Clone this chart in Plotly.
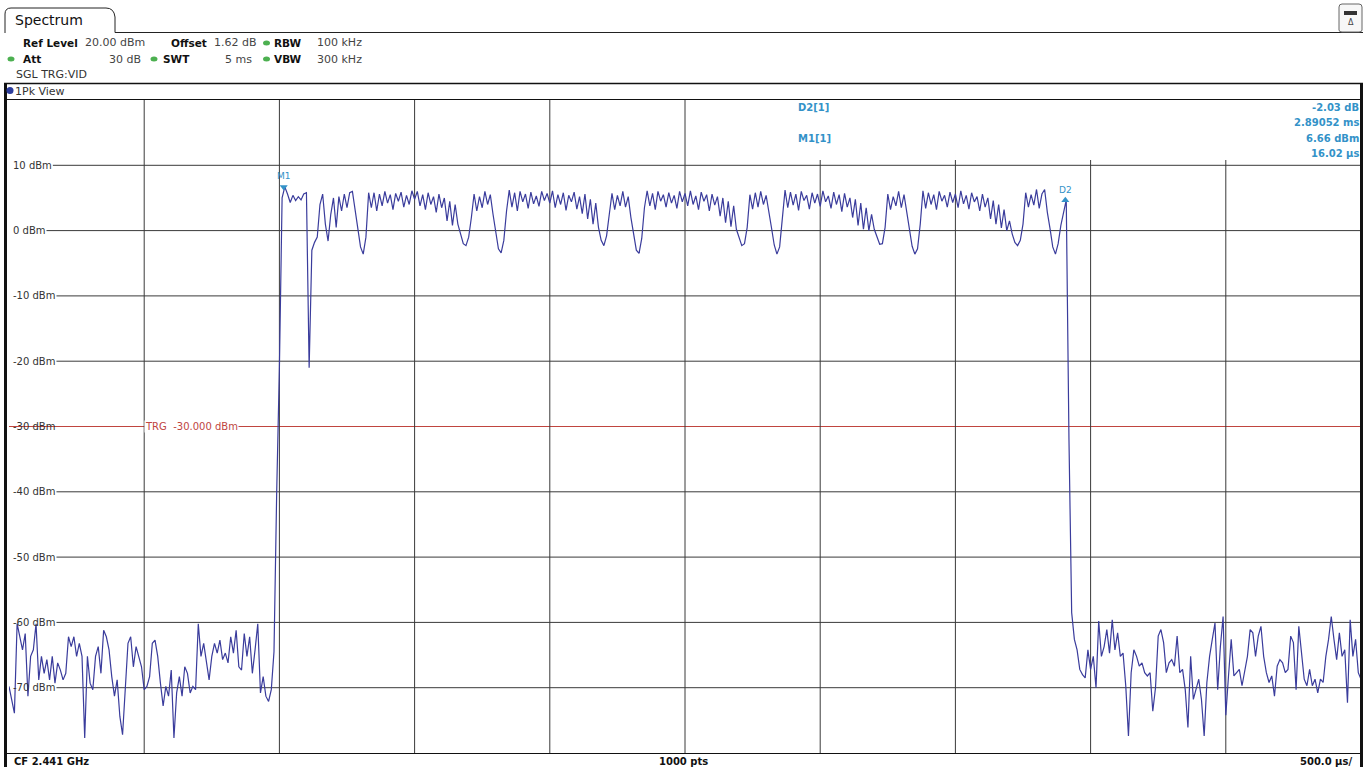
import plotly.graph_objects as go

# ---- sweep settings (zero span, 1000 pts / 5 ms, plotted every 10 us) ----
SAMPLE_US = 10.0
START_US = -1000.0
X_RANGE_US = [-1000.0, 4000.0]
Y_RANGE_DBM = [-80.0, 20.0]

# level before the trigger point (noise floor)
pre_trigger_dbm = [
    -69.8, -71.8, -73.9, -60.2, -62.2, -64.2, -61.7, -71.3, -65.2, -64.2,
    -60.2, -68.8, -65.2, -67.8, -65.7, -68.8, -65.2, -69.3, -66.2, -67.3,
    -68.8, -67.8, -62.2, -63.7, -62.2, -65.2, -63.2, -65.2, -77.7, -65.2,
    -69.3, -70.3, -65.2, -63.7, -67.8, -61.2, -62.2, -64.2, -68.3, -71.3,
    -68.8, -74.4, -77.2, -70.3, -63.2, -62.2, -66.8, -63.7, -65.2, -66.8,
    -70.3, -69.8, -68.3, -63.2, -62.7, -65.2, -69.3, -72.8, -69.8, -71.3,
    -67.3, -77.7, -70.8, -68.3, -71.3, -66.8, -67.8, -70.8, -69.8, -70.3,
    -60.2, -65.2, -63.2, -65.7, -68.8, -65.2, -63.2, -64.7, -62.7, -65.7,
    -64.7, -66.2, -62.2, -64.7, -61.2, -66.8, -67.3, -61.7, -65.2, -62.2,
    -67.8, -64.2, -60.2, -70.8, -68.3, -71.3, -72.1, -70.3, -64.5, -40.0,
]

# burst from the trigger point up to the D2 marker
burst_dbm = [
    -21.0, 5.0, 6.7, 5.6, 4.3, 5.4, 4.6, 5.2, 4.7, 5.6,
    5.8, -21.0, -3.0, -1.8, -1.0, 4.0, 5.6, 1.0, -1.6, 2.5,
    5.0, 0.5, 5.2, 3.0, 5.6, 3.5, 5.8, 6.0, 3.0, 0.5,
    -2.5, -3.6, -1.0, 5.8, 3.5, 5.8, 3.0, 5.6, 3.8, 6.0,
    4.2, 5.5, 3.2, 5.7, 4.5, 5.9, 3.6, 5.4, 4.0, 6.1,
    4.8, 6.0, 3.8, 5.5, 3.2, 5.8, 4.0, 5.2, 2.8, 5.6,
    3.5, 5.0, 1.5, 4.5, 0.8, 4.0, 1.0, -0.5, -2.0, -2.3,
    -1.0, 2.0, 5.6, 3.0, 5.2, 3.5, 6.0, 4.0, 5.5, 2.5,
    0.0, -2.8, -3.4, -1.5, 3.0, 6.2, 3.6, 5.8, 3.0, 6.0,
    4.4, 5.6, 3.4, 5.9, 4.1, 5.3, 3.7, 6.0, 4.6, 5.7,
    4.2, 6.1, 3.5, 5.5, 4.0, 5.8, 3.1, 5.4, 4.4, 5.9,
    3.3, 5.2, 2.6, 5.6, 1.8, 4.8, 1.0, 4.2, 0.5, -1.5,
    -2.3, -0.8, 2.5, 5.7, 3.2, 5.4, 3.8, 6.0, 3.6, 5.2,
    2.0, -0.5, -3.0, -3.5, -1.2, 3.5, 6.1, 3.8, 5.7, 3.2,
    6.0, 4.5, 5.5, 3.6, 5.8, 4.2, 5.4, 3.4, 6.0, 4.4,
    5.7, 3.8, 6.1, 4.0, 5.3, 3.2, 5.9, 4.5, 5.5, 3.0,
    5.6, 3.9, 5.2, 2.2, 5.0, 1.2, 4.5, 0.6, 3.8, 0.2,
    -1.2, -2.3, -2.0, 0.5, 5.5, 3.3, 5.8, 3.6, 6.0, 4.0,
    5.4, 2.6, 0.4, -2.2, -3.6, -2.5, 1.5, 6.2, 3.5, 5.9,
    3.9, 5.6, 3.1, 6.0, 4.6, 5.4, 3.3, 5.8, 4.2, 5.6,
    3.7, 6.1, 4.4, 5.3, 3.4, 5.9, 4.0, 5.5, 2.9, 5.7,
    3.6, 5.0, 2.0, 4.8, 0.8, 4.2, 0.2, 3.5, 0.0, 2.5,
    0.2, -1.0, -2.1, -2.0, 0.5, 5.6, 3.2, 5.2, 3.8, 6.0,
    3.5, 5.5, 2.8, 0.0, -2.4, -3.6, -2.8, 1.0, 6.1, 3.4,
    5.8, 4.0, 5.5, 3.2, 6.0, 4.5, 5.4, 3.6, 5.9, 4.3,
    5.6, 3.5, 6.1, 4.1, 5.4, 3.3, 5.8, 4.4, 5.2, 3.0,
    5.6, 3.6, 5.0, 1.8, 4.6, 1.0, 4.0, 0.4, 3.2, 0.0,
    1.5, -0.5, -1.8, -2.3, -1.5, 1.0, 5.8, 3.6, 5.5, 3.9,
    6.3, 3.4, 5.6, 6.3, 2.8, 0.3, -2.5, -3.6, -2.0, 0.8,
    2.6, 4.7,
]

# falling edge after the burst
fall_dbm = [-32.0, -58.5]

# noise floor after the burst
post_burst_dbm = [
    -62.6, -64.2, -67.2, -68.0, -68.5, -64.2, -67.2, -65.2, -70.0, -59.8,
    -65.2, -63.7, -61.1, -64.7, -59.6, -64.2, -61.6, -65.2, -64.7, -69.7,
    -77.4, -67.7, -64.2, -65.2, -66.7, -66.2, -67.7, -68.2, -67.7, -73.6,
    -70.0, -62.1, -61.1, -63.1, -67.7, -66.2, -65.7, -66.7, -62.1, -67.7,
    -67.2, -70.3, -76.1, -65.2, -71.8, -70.3, -68.7, -71.8, -77.4, -69.2,
    -65.2, -62.6, -60.1, -70.3, -63.7, -59.1, -74.2, -68.2, -62.6, -68.2,
    -67.7, -67.2, -69.7, -67.7, -65.2, -61.1, -61.6, -65.2, -62.1, -60.6,
    -65.2, -67.7, -69.2, -68.2, -71.3, -66.7, -65.7, -66.2, -67.7, -67.2,
    -62.1, -63.1, -70.3, -60.6, -64.7, -68.7, -69.7, -67.2, -69.7, -68.7,
    -70.8, -68.7, -69.2, -65.2, -62.6, -59.1, -62.6, -65.7, -61.6, -65.2,
    -64.2, -72.3, -59.6, -65.2, -62.6, -67.7, -68.7,
]

level_dbm = pre_trigger_dbm + burst_dbm + fall_dbm + post_burst_dbm
time_us = [START_US + i * SAMPLE_US for i in range(len(level_dbm))]

# markers
m1_time_us, m1_level_dbm = 16.02, 6.66
d2_delta_db, d2_delta_ms = -2.03, 2.89052
d2_time_us = m1_time_us + d2_delta_ms * 1000.0
d2_level_dbm = m1_level_dbm + d2_delta_db

trigger_dbm = -30.0
y_ticks_dbm = [10, 0, -10, -20, -30, -40, -50, -60, -70]
x_div_us = [-500, 0, 500, 1000, 1500, 2000, 2500, 3000, 3500]

# ---- page geometry (pixels) ----
W, H = 1372, 767
ML, MR, MT, MB = 9, 11, 100, 14
PW, PH = W - ML - MR, H - MT - MB

FONT = "DejaVu Sans"
TRACE = "#3a3c9c"
MARK = "#3392c8"
GRID = "#3a3a3a"
TRG_RED = "#c0453f"
DOT_GREEN = "#4cb050"


def px(x):
    return (x - ML) / PW


def py(y):
    return (H - MB - y) / PH


CHAR_W10 = {"-": 3.61, " ": 3.18, "d": 6.35, "B": 6.86, "m": 9.74}


def text_w10(s):
    return sum(CHAR_W10.get(c, 6.36) for c in s)


fig = go.Figure()

fig.add_trace(go.Scatter(
    x=time_us, y=level_dbm, mode="lines",
    line=dict(color=TRACE, width=1.2), hoverinfo="skip", showlegend=False,
))

fig.add_trace(go.Scatter(
    x=[m1_time_us], y=[m1_level_dbm], mode="markers+text",
    marker=dict(symbol="triangle-down", size=7, color=MARK),
    text=["M1"], textposition="top center",
    textfont=dict(family=FONT, size=9, color=MARK),
    hoverinfo="skip", showlegend=False,
))
fig.add_trace(go.Scatter(
    x=[d2_time_us], y=[d2_level_dbm], mode="markers+text",
    marker=dict(symbol="triangle-up", size=7, color=MARK),
    text=["D2"], textposition="top center",
    textfont=dict(family=FONT, size=9, color=MARK),
    hoverinfo="skip", showlegend=False,
))

shapes = []
annotations = []

# vertical divisions; those under the marker table stop below it
table_bottom_dbm = Y_RANGE_DBM[1] - (160 - MT) / PH * (Y_RANGE_DBM[1] - Y_RANGE_DBM[0])
for t in x_div_us:
    top = table_bottom_dbm if t >= 2000 else Y_RANGE_DBM[1]
    shapes.append(dict(type="line", xref="x", yref="y", x0=t, x1=t,
                       y0=Y_RANGE_DBM[0], y1=top, layer="below",
                       line=dict(color=GRID, width=1)))

# horizontal divisions with their level labels
for lv in y_ticks_dbm:
    lab = f"{lv} dBm"
    start = 13 + text_w10(lab) + 1
    shapes.append(dict(type="line", xref="paper", yref="y", x0=px(start), x1=1,
                       y0=lv, y1=lv, layer="below",
                       line=dict(color=GRID, width=1)))
    annotations.append(dict(text=lab, xref="paper", yref="y", x=px(11), y=lv,
                            xanchor="left", yanchor="middle", showarrow=False,
                            font=dict(family=FONT, size=10, color="#333333")))

# trigger level
shapes.append(dict(type="line", xref="paper", yref="y", x0=0, x1=1,
                   y0=trigger_dbm, y1=trigger_dbm, layer="below",
                   line=dict(color=TRG_RED, width=1)))
annotations.append(dict(text=f"TRG  {trigger_dbm:.3f} dBm", xref="x", yref="y",
                        x=-500, y=trigger_dbm, xanchor="left", yanchor="middle",
                        showarrow=False, bgcolor="white", borderpad=0,
                        font=dict(family=FONT, size=10, color=TRG_RED)))

# window frame
frame = dict(color="#111111")
shapes += [
    dict(type="line", xref="paper", yref="paper", x0=px(5.5), x1=px(5.5),
         y0=py(83), y1=py(767), line=dict(width=3, **frame)),
    dict(type="line", xref="paper", yref="paper", x0=px(1361.5), x1=px(1361.5),
         y0=py(83), y1=py(767), line=dict(width=3, **frame)),
    dict(type="line", xref="paper", yref="paper", x0=px(4), x1=px(1363),
         y0=py(83.5), y1=py(83.5), line=dict(width=1.5, **frame)),
    dict(type="line", xref="paper", yref="paper", x0=px(7), x1=px(1360),
         y0=py(99.5), y1=py(99.5), line=dict(width=1, **frame)),
    dict(type="line", xref="paper", yref="paper", x0=px(7), x1=px(1360),
         y0=py(753.5), y1=py(753.5), line=dict(width=1, **frame)),
]

# "Spectrum" tab outline and top rule
tab = (f"M {px(5)},{py(33)} L {px(5)},{py(14)} Q {px(5)},{py(8)} {px(11)},{py(8)} "
       f"L {px(106)},{py(8)} Q {px(114)},{py(8)} {px(115)},{py(17)} "
       f"L {px(115)},{py(32.5)} L {px(1363)},{py(32.5)}")
shapes.append(dict(type="path", xref="paper", yref="paper", path=tab,
                   line=dict(color="#222222", width=1)))

# small icon top right
icon = (f"M {px(1342)},{py(4)} L {px(1359)},{py(4)} Q {px(1362)},{py(4)} {px(1362)},{py(7)} "
        f"L {px(1362)},{py(30)} Q {px(1362)},{py(32)} {px(1359)},{py(32)} "
        f"L {px(1342)},{py(32)} Q {px(1339)},{py(32)} {px(1339)},{py(30)} "
        f"L {px(1339)},{py(7)} Q {px(1339)},{py(4)} {px(1342)},{py(4)} Z")
shapes.append(dict(type="path", xref="paper", yref="paper", path=icon,
                   fillcolor="#f7f7f7", line=dict(color="#666666", width=1)))
shapes.append(dict(type="rect", xref="paper", yref="paper",
                   x0=px(1344), x1=px(1357), y0=py(15), y1=py(11),
                   fillcolor="#333333", line=dict(width=0)))
annotations.append(dict(text="Δ", xref="paper", yref="paper", x=px(1350.5), y=py(23),
                        xanchor="center", yanchor="middle", showarrow=False,
                        font=dict(family=FONT, size=8, color="#444444")))

# status dots
for cx, cy in [(266.5, 43), (11, 59), (154, 59), (266.5, 59)]:
    shapes.append(dict(type="circle", xref="paper", yref="paper",
                       x0=px(cx - 3.5), x1=px(cx + 3.5), y0=py(cy + 2.5), y1=py(cy - 2.5),
                       fillcolor=DOT_GREEN, line=dict(width=0)))
shapes.append(dict(type="circle", xref="paper", yref="paper",
                   x0=px(6.5), x1=px(13.5), y0=py(94), y1=py(87),
                   fillcolor="#2c3c9c", line=dict(width=0)))


def label(x, y, text, size=11, bold=False, anchor="left", color="#111111"):
    annotations.append(dict(
        text=f"<b>{text}</b>" if bold else text, xref="paper", yref="paper",
        x=px(x), y=py(y), xanchor=anchor, yanchor="middle", showarrow=False,
        borderpad=0, font=dict(family=FONT, size=size, color=color)))


label(14, 20, "Spectrum", size=14)
label(22, 43, "Ref Level", bold=True, size=10.5)
label(84, 43, "20.00 dBm", color="#444444")
label(170, 43, "Offset", bold=True, size=10.5)
label(213, 43, "1.62 dB", color="#444444")
label(273, 43, "RBW", bold=True, size=10.5)
label(316, 43, "100 kHz", color="#444444")
label(22, 59, "Att", bold=True, size=10.5)
label(142, 59, "30 dB", anchor="right", color="#444444")
label(162, 59, "SWT", bold=True, size=10.5)
label(253, 59, "5 ms", anchor="right", color="#444444")
label(273, 59, "VBW", bold=True, size=10.5)
label(316, 59, "300 kHz", color="#444444")
label(15, 75, "SGL TRG:VID", size=11, color="#333333")
label(14, 91, "1Pk View", size=11, color="#333333")

# marker table
label(797, 108, "D2[1]", size=10, bold=True, color=MARK)
label(797, 139, "M1[1]", size=10, bold=True, color=MARK)
label(1360, 108, f"{d2_delta_db:.2f} dB", size=10, bold=True, anchor="right", color=MARK)
label(1360, 123, f"{d2_delta_ms:.5f} ms", size=10, bold=True, anchor="right", color=MARK)
label(1360, 139, f"{m1_level_dbm:.2f} dBm", size=10, bold=True, anchor="right", color=MARK)
label(1360, 154, f"{m1_time_us:.2f} µs", size=10, bold=True, anchor="right", color=MARK)

# footer
label(13, 761, "CF 2.441 GHz", size=10, bold=True)
label(683, 761, "1000 pts", size=10, bold=True, anchor="center")
label(1353, 761, "500.0 µs/", size=10, bold=True, anchor="right")

fig.update_layout(
    width=W, height=H,
    margin=dict(l=ML, r=MR, t=MT, b=MB, pad=0),
    paper_bgcolor="white", plot_bgcolor="white",
    xaxis=dict(range=X_RANGE_US, visible=False, fixedrange=True),
    yaxis=dict(range=Y_RANGE_DBM, visible=False, fixedrange=True),
    shapes=shapes, annotations=annotations,
    showlegend=False,
)

fig.write_html("out.html", config={"displayModeBar": False})
